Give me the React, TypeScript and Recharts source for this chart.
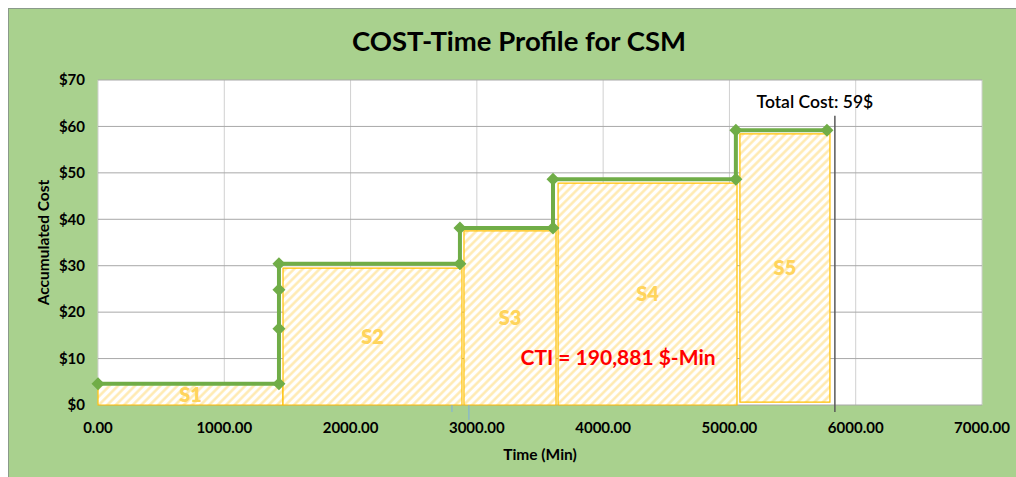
import React from "react"
import {
  ComposedChart,
  Line,
  XAxis,
  YAxis,
  CartesianGrid,
  ReferenceArea,
  ReferenceLine,
  ReferenceDot,
} from "recharts"

// step profile of accumulated cost (corners of the staircase)
const stepTime = [0, 1433, 1433, 1433, 1433, 2866, 2866, 3603, 3603, 5051, 5051, 5772]
const stepCost = [4.6, 4.6, 16.4, 24.8, 30.4, 30.4, 38.1, 38.1, 48.6, 48.6, 59.2, 59.2]

// hatched stage blocks
const stageNames = ["S1", "S2", "S3", "S4", "S5"]
const stageStart = [0, 1465, 2898, 3643, 5083]
const stageEnd = [1465, 2882, 3627, 5060, 5796]
const stageTop = [4.5, 29.5, 37.5, 47.8, 58.4]
const stageBottom = [0, 0, 0, 0, 0.6]

const xTicks = [0, 1000, 2000, 3000, 4000, 5000, 6000, 7000]
const yTicks = [0, 10, 20, 30, 40, 50, 60, 70]

const totalCost = 59
const totalTime = 5835
const ctiValue = "190,881"

const data = stepTime.map((t, i) => ({ t, cost: stepCost[i] }))

const GREEN = "#70ad47"
const FONT = "Lato, 'Open Sans', sans-serif"

function Diamond(props: any) {
  const { cx, cy, index } = props
  if (cx == null || cy == null) return null
  const r = 6.5
  return (
    <polygon
      key={`d-${index}`}
      points={`${cx},${cy - r} ${cx + r},${cy} ${cx},${cy + r} ${cx - r},${cy}`}
      fill={GREEN}
    />
  )
}

export default function App() {
  return (
    <div
      style={{
        position: "absolute",
        left: 8,
        top: 8,
        boxSizing: "border-box",
        width: 1008,
        height: 469,
        background: "#a9d18e",
        borderLeft: "1px solid #8a9a8a",
        borderTop: "1px solid #8a9a8a",
        fontFamily: FONT,
        overflow: "hidden",
      }}
    >
      <div
        style={{
          position: "absolute",
          left: 0,
          width: 1020,
          top: 15,
          textAlign: "center",
          fontSize: 27.5,
          fontWeight: 700,
          color: "#000",
          lineHeight: "34px",
        }}
      >
        COST-Time Profile for CSM
      </div>
      <ComposedChart
        width={1007}
        height={468}
        data={data}
        margin={{ top: 71, right: 34, bottom: 0, left: 0 }}
      >
        <defs>
          <pattern
            id="hatch"
            width="6"
            height="6"
            patternUnits="userSpaceOnUse"
            patternTransform="rotate(45)"
          >
            <rect width="6" height="6" fill="#ffffff" />
            <line x1="1.5" y1="0" x2="1.5" y2="6" stroke="#ffe9ad" strokeWidth="2.4" />
          </pattern>
        </defs>
        <CartesianGrid horizontal={false} stroke="#d0d0d0" fill="#ffffff" fillOpacity={1} />
        <CartesianGrid vertical={false} stroke="#a8a8a8" />
        <XAxis
          dataKey="t"
          type="number"
          domain={[0, 7000]}
          ticks={xTicks}
          tickFormatter={(v: number) => v.toFixed(2)}
          axisLine={false}
          tickLine={false}
          tickSize={0}
          tickMargin={17}
          height={72}
          tick={{ fill: "#000", fontSize: 15, fontWeight: 700 }}
          label={{
            value: "Time (Min)",
            position: "insideBottom",
            offset: 17,
            fill: "#000",
            fontSize: 15.5,
            fontWeight: 700,
          }}
        />
        <YAxis
          type="number"
          domain={[0, 70]}
          ticks={yTicks}
          tickFormatter={(v: number) => `$${v}`}
          axisLine={false}
          tickLine={false}
          tickSize={0}
          tickMargin={13}
          width={89}
          tick={{ fill: "#000", fontSize: 15, fontWeight: 700 }}
          label={{
            content: (p: any) => {
              const vb = p.viewBox || { x: 0, y: 71, height: 325 }
              const cx = vb.x + 34
              const cy = vb.y + vb.height / 2
              return (
                <text
                  x={cx}
                  y={cy}
                  transform={`rotate(-90 ${cx} ${cy})`}
                  textAnchor="middle"
                  dominantBaseline="central"
                  fill="#000"
                  fontSize={15.5}
                  fontWeight={700}
                >
                  Accumulated Cost
                </text>
              )
            },
          }}
        />
        {stageNames.map((name, i) => (
          <ReferenceArea
            key={name}
            x1={stageStart[i]}
            x2={stageEnd[i]}
            y1={stageBottom[i]}
            y2={stageTop[i]}
            fill="url(#hatch)"
            fillOpacity={1}
            stroke="#ffc000"
            strokeWidth={1.2}
            label={{
              value: name,
              position: "center",
              fill: "#ffd45c",
              fontSize: 20,
              fontWeight: 800,
            }}
          />
        ))}
        <ReferenceLine
          segment={[
            { x: totalTime, y: -1.5 },
            { x: totalTime, y: 62.3 },
          ]}
          stroke="#595959"
          strokeWidth={1.5}
          ifOverflow="visible"
        />
        <ReferenceLine
          segment={[
            { x: 2803, y: 0 },
            { x: 2803, y: -1.5 },
          ]}
          stroke="#7eaee0"
          strokeWidth={1}
          ifOverflow="visible"
        />
        <ReferenceLine
          segment={[
            { x: 2937, y: 0 },
            { x: 2937, y: -3.2 },
          ]}
          stroke="#7eaee0"
          strokeWidth={1}
          ifOverflow="visible"
        />
        <Line
          type="linear"
          dataKey="cost"
          stroke={GREEN}
          strokeWidth={4}
          dot={Diamond}
          activeDot={false}
          isAnimationActive={false}
        />
        <ReferenceDot
          x={5677}
          y={65.3}
          r={0}
          fillOpacity={0}
          stroke="none"
          label={{
            value: `Total Cost: ${totalCost}$`,
            position: "center",
            fill: "#000",
            fontSize: 17.5,
            fontWeight: 600,
          }}
        />
        <ReferenceDot
          x={4118}
          y={10.3}
          r={0}
          fillOpacity={0}
          stroke="none"
          label={{
            value: `CTI = ${ctiValue} $-Min`,
            position: "center",
            fill: "#ff0000",
            fontSize: 21,
            fontWeight: 700,
          }}
        />
      </ComposedChart>
    </div>
  )
}
